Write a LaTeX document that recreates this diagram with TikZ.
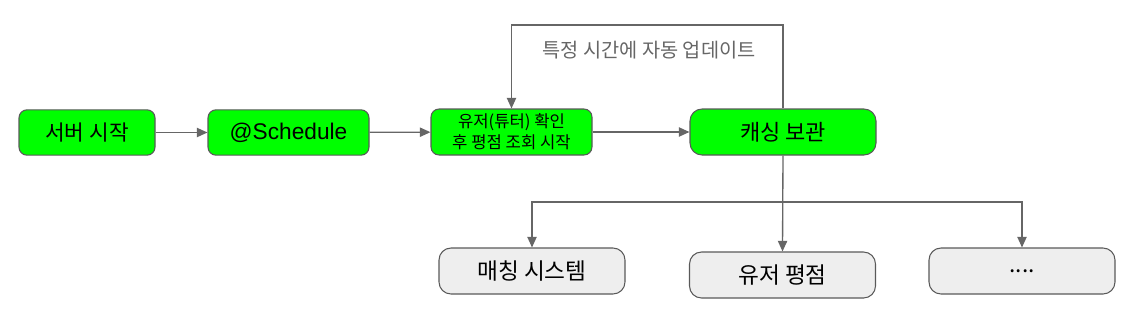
\documentclass[tikz,border=0pt]{standalone}
\usepackage{fontspec}
\setmainfont{Liberation Sans}
\newfontfamily\krfont{Noto Sans CJK KR}
\usetikzlibrary{positioning, arrows.meta}
\definecolor{boxgreen}{HTML}{00FF00}
\definecolor{boxgray}{HTML}{EEEEEE}
\definecolor{linegray}{HTML}{666666}
\definecolor{bordergray}{HTML}{595959}

\begin{document}
\begin{tikzpicture}[x=0.75pt, y=-0.75pt, >={Triangle[length=8pt, width=7pt]},
    box/.style={draw=bordergray, line width=0.8pt, rounded corners=6pt,
        minimum height=34pt, inner sep=2pt, font=\krfont\fontsize{16}{18}\selectfont},
    runbox/.style={box, fill=boxgreen},
    usebox/.style={box, fill=boxgray, rounded corners=9pt, minimum width=139.5pt,
        minimum height=34.5pt, font=\krfont\fontsize{17}{19}\selectfont},
    flow/.style={draw=linegray, line width=1pt, ->}]
    \useasboundingbox (0,0) rectangle (1122,322);

    \node[runbox, minimum width=102pt] (start) at (87,132.5) {서버 시작};
    \node[runbox, minimum width=120.75pt, font=\fontsize{17}{19}\selectfont] (sched) at (288.5,132.5) {@Schedule};
    \node[runbox, minimum width=120.75pt, minimum height=34.5pt, align=center,
        font=\krfont\fontsize{12.5}{15.5}\selectfont] (check) at (511.5,132) {유저(튜터) 확인\\후 평점 조회 시작};
    \node[runbox, minimum width=139.5pt, minimum height=34.5pt, rounded corners=9pt,
        font=\krfont\fontsize{16.5}{19}\selectfont] (cache) at (783,132) {캐싱 보관};

    \node[usebox] (match) at (532,271) {매칭 시스템};
    \node[usebox] (rating) at (782.5,275) {유저 평점};
    \node[usebox] (etc) at (1022,271) {....};

    % update loop
    \coordinate (loop) at (647,25);
    \node[text=linegray, font=\krfont\fontsize{14.8}{17}\selectfont] (upd) at (649,50) {특정 시간에 자동 업데이트};

    \draw[flow] (start) -- (sched);
    \draw[flow] (sched) -- (check);
    \draw[flow] (check) -- (cache);
    \draw[flow] (cache.north) |- (loop) -| (check.north);

    % fan out
    \coordinate (split) at (783,202);
    \draw[flow] (cache.south) -- (rating.north);
    \draw[flow] (split) -| (match.north);
    \draw[flow] (split) -| (etc.north);
\end{tikzpicture}
\end{document}
